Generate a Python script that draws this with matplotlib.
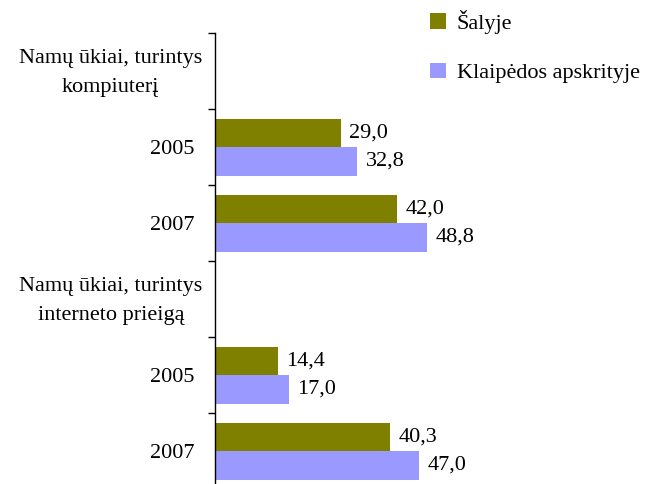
import numpy as np
import matplotlib.pyplot as plt
import matplotlib.transforms as mtransforms

plt.rcParams['font.family'] = ['Liberation Serif', 'DejaVu Serif']

categories = ['Namų ūkiai, turintys\nkompiuterį', '2005', '2007',
              'Namų ūkiai, turintys\ninterneto prieigą', '2005', '2007']
salyje = [np.nan, 29.0, 42.0, np.nan, 14.4, 40.3]
klaipeda = [np.nan, 32.8, 48.8, np.nan, 17.0, 47.0]
series_names = ['Šalyje', 'Klaipėdos apskrityje']
colors = ['#808000', '#9999FF']

fig = plt.figure(figsize=(6.45, 4.84), dpi=100)
# axes: left edge at x=215px, top at 33px, runs past the bottom of the figure
ax = fig.add_axes([215 / 645, -5 / 484, 430 / 645, 456 / 484])

y = np.arange(len(categories))
h = 0.375
b1 = ax.barh(y - h / 2, salyje, height=h, color=colors[0], label=series_names[0])
b2 = ax.barh(y + h / 2, klaipeda, height=h, color=colors[1], label=series_names[1])

for bars, vals in ((b1, salyje), (b2, klaipeda)):
    for rect, v in zip(bars, vals):
        if np.isnan(v):
            continue
        ax.annotate('{:.1f}'.format(v).replace('.', ','),
                    (rect.get_width(), rect.get_y() + rect.get_height() / 2),
                    xytext=(6, 0), textcoords='offset points',
                    ha='left', va='center', fontsize=16)

ax.set_xlim(0, 99)
ax.set_ylim(len(categories) - 0.5, -0.5)

ax.set_yticks(y)
ax.set_yticklabels(categories, fontsize=16, multialignment='center')
ax.set_yticks(np.arange(-0.5, len(categories)), minor=True)
ax.tick_params(axis='y', which='major', length=0, pad=9)
ax.tick_params(axis='y', which='minor', length=5, width=1, direction='out')
ax.set_xticks([])

# year labels sit a bit further left than the wrapped headers,
# headers sit slightly above the category centre
year_shift = mtransforms.ScaledTranslation(-8 / 100, 0, fig.dpi_scale_trans)
head_shift = mtransforms.ScaledTranslation(0, 5 / 100, fig.dpi_scale_trans)
for lab in ax.get_yticklabels():
    if '\n' in lab.get_text():
        lab.set_linespacing(1.7)
        lab.set_transform(lab.get_transform() + head_shift)
    else:
        lab.set_transform(lab.get_transform() + year_shift)

for s in ('top', 'right', 'bottom'):
    ax.spines[s].set_visible(False)
ax.spines['left'].set_linewidth(1)

fig.legend(handles=[b1, b2], loc='upper left', bbox_to_anchor=(430 / 645, 1 - 10 / 484),
           frameon=False, fontsize=16, handlelength=0.7, handleheight=0.7,
           handletextpad=0.5, labelspacing=1.3, borderpad=0, borderaxespad=0)

fig.savefig('out.png', dpi=100)
